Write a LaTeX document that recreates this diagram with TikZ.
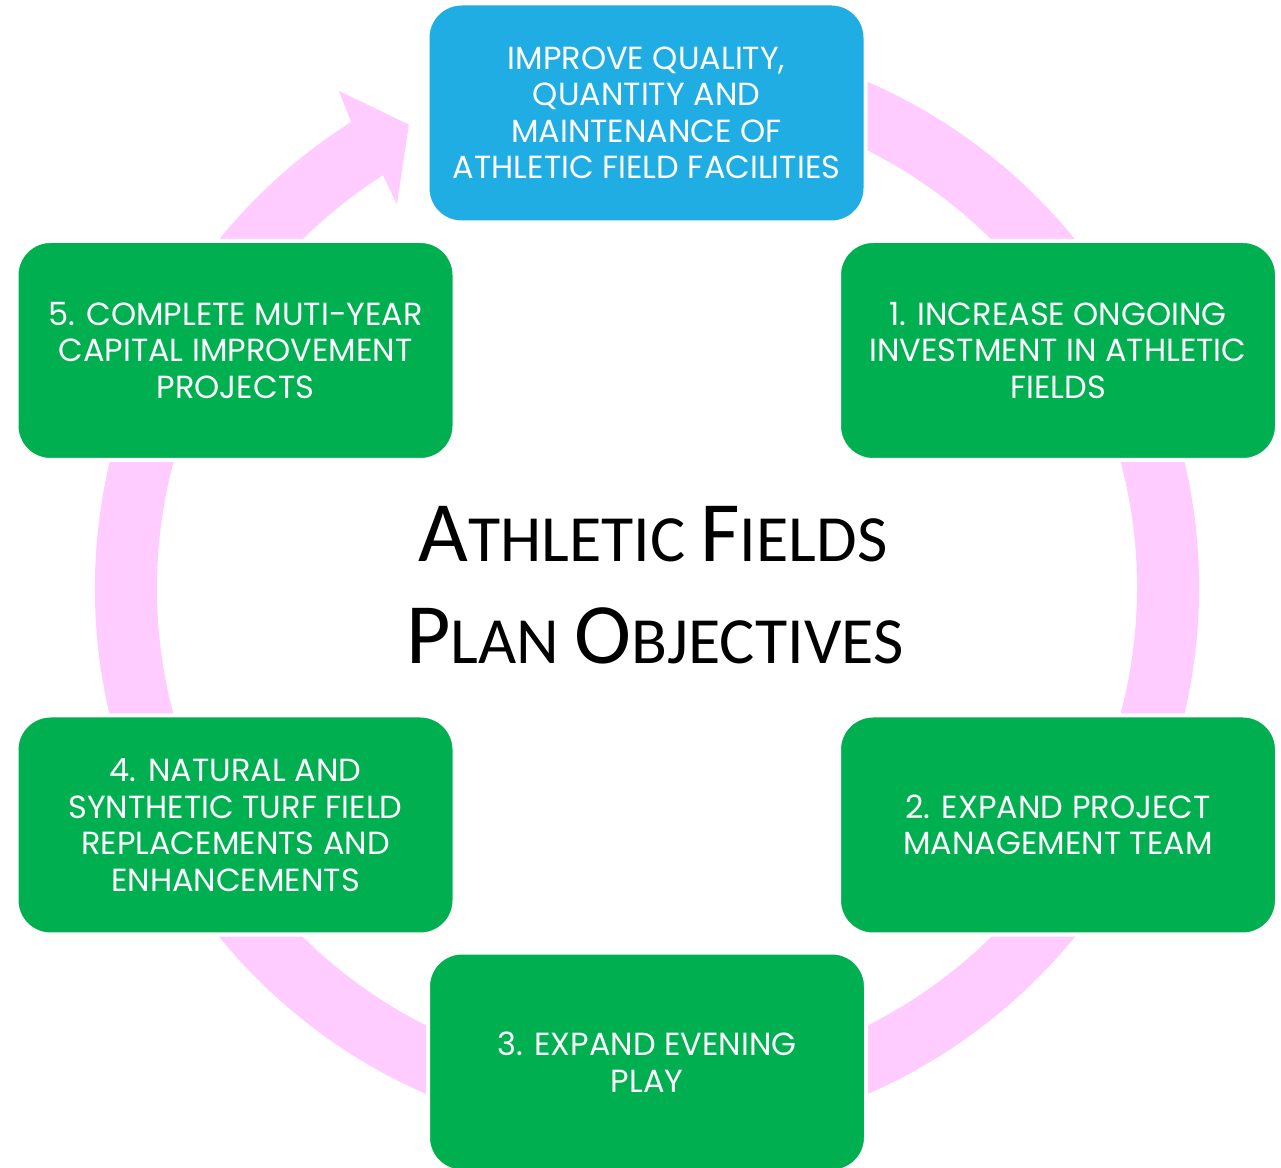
\documentclass[tikz,border=0pt]{standalone}
\usepackage{fontspec}
\setmainfont{Poppins}
\newfontfamily\titlefont{Carlito}
\usetikzlibrary{calc}
\definecolor{ringpink}{RGB}{255,204,255}
\definecolor{boxgreen}{RGB}{0,176,80}
\definecolor{boxblue}{RGB}{31,173,228}
\newcommand\tsc[2]{{\fontsize{86}{100}\selectfont #1}{\fontsize{66}{100}\selectfont #2}}
\begin{document}
\begin{tikzpicture}[x=1pt,y=1pt,
  objbox/.style={rounded corners=34pt, draw=white, line width=4pt, minimum width=438pt, minimum height=219pt, inner sep=0pt, text=white, align=center, font=\fontsize{32}{36.5}\selectfont},
  greenbox/.style={objbox, fill=boxgreen},
  bluebox/.style={objbox, fill=boxblue},
  titletext/.style={anchor=base, inner sep=0pt, font=\titlefont\fontsize{66}{100}\selectfont}]
\useasboundingbox[fill=white] (0,0) rectangle (1281,1167);
\coordinate (C) at (647,579);
\fill[ringpink] ($(C)+(80:552)$) arc[start angle=80, end angle=-237.6, radius=552]
  -- ($(C)+(121.8:585)$) -- ($(C)+(117.2:521)$) -- ($(C)+(123.1:458)$)
  -- ($(C)+(122.6:490)$) arc[start angle=-237.4, end angle=80, radius=490] -- cycle;
\node[bluebox] (goal) at (646.5,1054) {IMPROVE QUALITY,\\QUANTITY AND\\MAINTENANCE OF\\ATHLETIC FIELD FACILITIES};
\node[greenbox] (o1) at (1058,816.5) {1. INCREASE ONGOING\\INVESTMENT IN ATHLETIC\\FIELDS};
\node[greenbox] (o2) at (1058,342) {2. EXPAND PROJECT\\MANAGEMENT TEAM};
\node[greenbox] (o3) at (647,105) {3. EXPAND EVENING\\PLAY};
\node[greenbox] (o4) at (235.5,342) {4. NATURAL AND\\SYNTHETIC TURF FIELD\\REPLACEMENTS AND\\ENHANCEMENTS};
\node[greenbox] (o5) at (235.5,816.5) {5. COMPLETE MUTI-YEAR\\CAPITAL IMPROVEMENT\\PROJECTS};
\node[titletext] (t1) at (653,605) {\tsc{A}{THLETIC} \tsc{F}{IELDS}};
\node[titletext] (t2) at (655,503) {\tsc{P}{LAN} \tsc{O}{BJECTIVES}};
\end{tikzpicture}
\end{document}
